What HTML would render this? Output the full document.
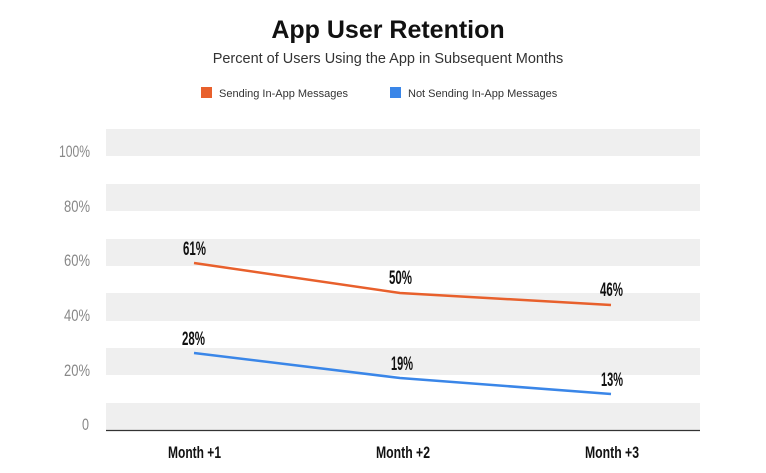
<!DOCTYPE html>
<html><head><meta charset="utf-8"><style>
body{margin:0;background:#fff;width:766px;height:473px;overflow:hidden}
svg{display:block}
.c{font-family:"Liberation Sans",sans-serif}
</style></head><body>
<svg width="766" height="473" xmlns="http://www.w3.org/2000/svg">
<text x="388" y="38" text-anchor="middle" font-family="Liberation Sans,sans-serif" font-weight="bold" font-size="25" fill="#111">App User Retention</text>
<text x="388" y="63" text-anchor="middle" font-family="Liberation Sans,sans-serif" font-size="14.5" fill="#333">Percent of Users Using the App in Subsequent Months</text>
<rect x="201" y="87" width="11" height="11" fill="#e8602c"/>
<text x="219" y="97" font-family="Liberation Sans,sans-serif" font-size="11" fill="#333">Sending In-App Messages</text>
<rect x="390" y="87" width="11" height="11" fill="#3a86e8"/>
<text x="408" y="97" font-family="Liberation Sans,sans-serif" font-size="11" fill="#333">Not Sending In-App Messages</text>
<g fill="#efefef">
<rect x="106" y="129" width="594" height="27"/>
<rect x="106" y="184" width="594" height="27"/>
<rect x="106" y="239" width="594" height="27"/>
<rect x="106" y="293" width="594" height="28"/>
<rect x="106" y="348" width="594" height="27"/>
<rect x="106" y="403" width="594" height="27"/>
</g>
<line x1="106" y1="430.5" x2="700" y2="430.5" stroke="#333" stroke-width="1.2"/>
<g class="c" font-size="17" fill="#888">
<text x="59" y="157" textLength="31" lengthAdjust="spacingAndGlyphs">100%</text>
<text x="64" y="212" textLength="26" lengthAdjust="spacingAndGlyphs">80%</text>
<text x="64" y="266" textLength="26" lengthAdjust="spacingAndGlyphs">60%</text>
<text x="64" y="321" textLength="26" lengthAdjust="spacingAndGlyphs">40%</text>
<text x="64" y="376" textLength="26" lengthAdjust="spacingAndGlyphs">20%</text>
<text x="82" y="430" textLength="7" lengthAdjust="spacingAndGlyphs">0</text>
</g>
<polyline points="194,263 400,293 611,305" fill="none" stroke="#e8602c" stroke-width="2.5"/>
<polyline points="194,353 400,378 611,394" fill="none" stroke="#3a86e8" stroke-width="2.5"/>
<g class="c" font-size="19" font-weight="bold" fill="#111">
<text x="183" y="255" textLength="23" lengthAdjust="spacingAndGlyphs">61%</text>
<text x="389" y="284" textLength="23" lengthAdjust="spacingAndGlyphs">50%</text>
<text x="600" y="296" textLength="23" lengthAdjust="spacingAndGlyphs">46%</text>
<text x="182" y="345" textLength="23" lengthAdjust="spacingAndGlyphs">28%</text>
<text x="391" y="370" textLength="22" lengthAdjust="spacingAndGlyphs">19%</text>
<text x="601" y="386" textLength="22" lengthAdjust="spacingAndGlyphs">13%</text>
</g>
<g class="c" font-size="17" font-weight="bold" fill="#111">
<text x="168" y="458" textLength="53" lengthAdjust="spacingAndGlyphs">Month +1</text>
<text x="376" y="458" textLength="54" lengthAdjust="spacingAndGlyphs">Month +2</text>
<text x="585" y="458" textLength="54" lengthAdjust="spacingAndGlyphs">Month +3</text>
</g>
</svg>
</body></html>
